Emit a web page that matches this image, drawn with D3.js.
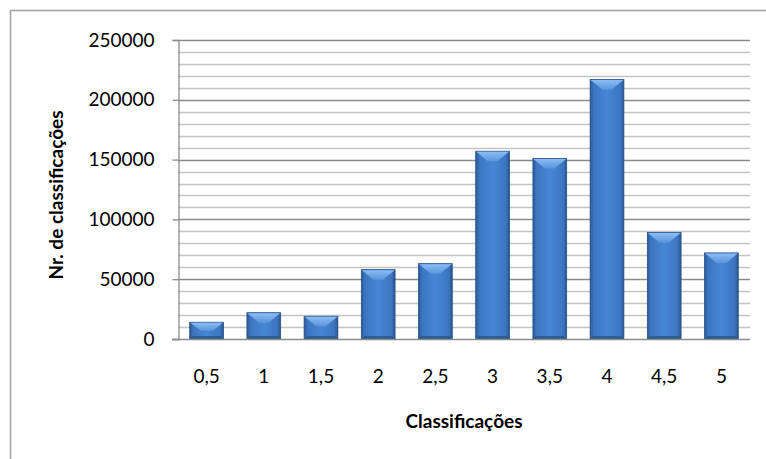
<!DOCTYPE html>
<html>
<head>
<meta charset="utf-8">
<script src="https://cdn.jsdelivr.net/npm/d3@7"></script>
<style>
  html, body { margin: 0; padding: 0; background: #fff; }
  svg { display: block; font-family: Lato, "Open Sans", sans-serif; }
</style>
</head>
<body>
<svg id="chart" width="766" height="459"></svg>
<script>
// Number of ratings per rating value
const categories = ["0,5", "1", "1,5", "2", "2,5", "3", "3,5", "4", "4,5", "5"];
const counts = [14000, 22000, 19000, 58000, 63000, 157000, 151000, 217000, 89000, 72000];
const yTicks = [0, 50000, 100000, 150000, 200000, 250000];
const yMinorStep = 10000;
const xTitle = "Classificações";
const yTitle = "Nr. de classificações";

const svg = d3.select("#chart");
const plot = { left: 178, right: 750, top: 40, bottom: 339 };

const x = d3.scaleBand()
  .domain(categories)
  .range([plot.left, plot.right])
  .paddingInner(0.41)
  .paddingOuter(0.205);

const y = d3.scaleLinear()
  .domain([0, 250000])
  .range([plot.bottom, plot.top]);

// Chart frame (only top and left edges fall inside the window)
svg.append("rect")
  .attr("x", 10.5).attr("y", 10.5)
  .attr("width", 800).attr("height", 500)
  .attr("fill", "none")
  .attr("stroke", "#a6a6a6")
  .attr("stroke-width", 1.6);

// Gradients for the bevelled bars
const defs = svg.append("defs");
const body = defs.append("linearGradient").attr("id", "barBody")
  .attr("x1", "0").attr("x2", "1").attr("y1", "0").attr("y2", "0");
body.append("stop").attr("offset", "0").attr("stop-color", "#2a5894");
body.append("stop").attr("offset", "0.1").attr("stop-color", "#3c74bf");
body.append("stop").attr("offset", "0.5").attr("stop-color", "#4787d6");
body.append("stop").attr("offset", "0.9").attr("stop-color", "#3c74bf");
body.append("stop").attr("offset", "1").attr("stop-color", "#28548e");

const topBevel = defs.append("linearGradient").attr("id", "barTop")
  .attr("x1", "0").attr("x2", "0").attr("y1", "0").attr("y2", "1");
topBevel.append("stop").attr("offset", "0").attr("stop-color", "#8cbdf3");
topBevel.append("stop").attr("offset", "1").attr("stop-color", "#5a95dd");

// Minor gridlines
const minorVals = d3.range(yMinorStep, 250000 + 1, yMinorStep).filter(v => v % 50000 !== 0);
svg.append("g").selectAll("line").data(minorVals).join("line")
  .attr("x1", plot.left).attr("x2", plot.right)
  .attr("y1", d => Math.round(y(d)) + 0.5).attr("y2", d => Math.round(y(d)) + 0.5)
  .attr("stroke", "#c4c4c4").attr("stroke-width", 1.3);

// Major gridlines
svg.append("g").selectAll("line").data(yTicks.filter(v => v > 0)).join("line")
  .attr("x1", plot.left).attr("x2", plot.right)
  .attr("y1", d => Math.round(y(d)) + 0.5).attr("y2", d => Math.round(y(d)) + 0.5)
  .attr("stroke", "#8c8c8c").attr("stroke-width", 1.3);

// Y axis
const yAxis = svg.append("g")
  .attr("transform", `translate(${plot.left + 0.5},0)`)
  .call(d3.axisLeft(y).tickValues(yTicks).tickSize(6).tickPadding(18).tickFormat(d3.format("d")));
yAxis.select(".domain").attr("stroke", "#8c8c8c").attr("stroke-width", 1.3);
yAxis.selectAll(".tick line").attr("stroke", "#8c8c8c").attr("stroke-width", 1.3);
yAxis.selectAll(".tick text")
  .attr("fill", "#000").style("font-size", "19px").style("font-family", "Lato, sans-serif");

// Bars with a bevelled top and a shaded foot
const bw = x.bandwidth();
const bevel = 10;
const bars = svg.append("g").selectAll("g").data(categories).join("g");
bars.append("rect")
  .attr("x", d => x(d)).attr("width", bw)
  .attr("y", (d, i) => y(counts[i]))
  .attr("height", (d, i) => y(0) - y(counts[i]))
  .attr("fill", "url(#barBody)")
  .attr("stroke", "#25508a").attr("stroke-width", 0.8);
bars.append("path")
  .attr("d", (d, i) => {
    const x0 = x(d), x1 = x(d) + bw, t = y(counts[i]);
    const h = Math.min(bevel, (y(0) - t) / 2);
    const inset = Math.min(bw * 0.36, h * 1.3);
    return `M${x0 + 0.5},${t + 0.5}L${x1 - 0.5},${t + 0.5}L${x1 - inset},${t + h}L${x0 + inset},${t + h}Z`;
  })
  .attr("fill", "url(#barTop)");
bars.append("path")
  .attr("d", (d, i) => {
    const x0 = x(d), x1 = x(d) + bw, b = y(0);
    const h = Math.min(3, (b - y(counts[i])) / 3);
    return `M${x0},${b}L${x1},${b}L${x1 - h},${b - h}L${x0 + h},${b - h}Z`;
  })
  .attr("fill", "#24507f").attr("opacity", 0.7);

// Baseline
svg.append("line")
  .attr("x1", plot.left - 6).attr("x2", plot.right)
  .attr("y1", Math.round(y(0)) + 0.5).attr("y2", Math.round(y(0)) + 0.5)
  .attr("stroke", "#8c8c8c").attr("stroke-width", 1.5);

// Category labels
svg.append("g").selectAll("text").data(categories).join("text")
  .attr("x", d => x(d) + bw / 2)
  .attr("y", 383)
  .attr("text-anchor", "middle")
  .style("font-size", "19px")
  .text(d => d);

// Axis titles
svg.append("text")
  .attr("x", (plot.left + plot.right) / 2)
  .attr("y", 428)
  .attr("text-anchor", "middle")
  .style("font-size", "19px").style("font-weight", "bold")
  .text(xTitle);

svg.append("text")
  .attr("transform", "translate(63,195) rotate(-90)")
  .attr("text-anchor", "middle")
  .style("font-size", "19px").style("font-weight", "bold")
  .text(yTitle);
</script>
</body>
</html>
